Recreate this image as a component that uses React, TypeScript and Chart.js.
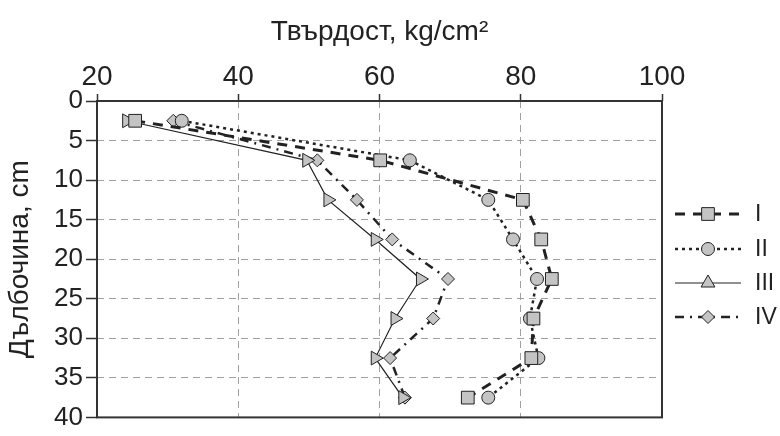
import React, { useEffect, useRef } from "react";
import { Chart, registerables } from "chart.js";

Chart.register(...registerables);

const depths = [2.5, 7.5, 12.5, 17.5, 22.5, 27.5, 32.5, 37.5];
const seriesI = [25.4, 60.1, 80.3, 82.9, 84.4, 81.8, 81.5, 72.5];
const seriesII = [32.0, 64.3, 75.4, 78.9, 82.3, 81.3, 82.5, 75.4];
const seriesIII = [24.2, 49.7, 52.7, 59.4, 65.8, 62.2, 59.4, 63.3];
const seriesIV = [30.8, 51.2, 56.8, 61.8, 69.7, 67.6, 61.5, 63.6];
const seriesNames = ["I", "II", "III", "IV"];
const xTitle = "Твърдост, kg/cm²";
const yTitle = "Дълбочина, cm";

const FONT = "'Liberation Sans Narrow', 'Liberation Sans', Arial, sans-serif";
const INK = "#222";
const FILL = "#c4c4c4";

const toPoints = (vals: number[]) => vals.map((v, i) => ({ x: v, y: depths[i] }));

const boxAndLegend = {
  id: "boxAndLegend",
  beforeDatasetsDraw(chart: any) {
    const { ctx, chartArea: a } = chart;
    ctx.save();
    ctx.strokeStyle = "#333";
    ctx.lineWidth = 2;
    ctx.setLineDash([]);
    ctx.strokeRect(a.left, a.top, a.right - a.left, a.bottom - a.top);
    ctx.restore();
  },
  afterDraw(chart: any) {
    const { ctx } = chart;
    const ys = [214, 249, 283, 317];
    chart.data.datasets.forEach((ds: any, i: number) => {
      const y = ys[i];
      const x0 = 675;
      const x1 = 741;
      const xm = 708;
      ctx.save();
      ctx.strokeStyle = ds.borderColor;
      ctx.lineWidth = ds.borderWidth;
      ctx.setLineDash(ds.borderDash || []);
      ctx.beginPath();
      ctx.moveTo(x0, y);
      ctx.lineTo(x1, y);
      ctx.stroke();
      ctx.setLineDash([]);
      ctx.fillStyle = FILL;
      ctx.strokeStyle = INK;
      ctx.lineWidth = 1;
      ctx.beginPath();
      const r = ds.pointRadius;
      if (ds.pointStyle === "rect") {
        const s = r * Math.SQRT1_2;
        ctx.rect(xm - s, y - s, 2 * s, 2 * s);
      } else if (ds.pointStyle === "circle") {
        ctx.arc(xm, y, r, 0, Math.PI * 2);
      } else if (ds.pointStyle === "triangle") {
        ctx.moveTo(xm, y - r);
        ctx.lineTo(xm + r * Math.cos(Math.PI / 6), y + r * 0.5);
        ctx.lineTo(xm - r * Math.cos(Math.PI / 6), y + r * 0.5);
        ctx.closePath();
      } else {
        ctx.moveTo(xm, y - r);
        ctx.lineTo(xm + r, y);
        ctx.lineTo(xm, y + r);
        ctx.lineTo(xm - r, y);
        ctx.closePath();
      }
      ctx.fill();
      ctx.stroke();
      ctx.fillStyle = INK;
      ctx.font = `23px ${FONT}`;
      ctx.textAlign = "left";
      ctx.textBaseline = "middle";
      ctx.fillText(ds.label, 755, y + 1);
      ctx.restore();
    });
  },
};

export default function App() {
  const ref = useRef<HTMLCanvasElement | null>(null);
  useEffect(() => {
    document.body.style.margin = "0";
    if (!ref.current) return;
    Chart.defaults.font.family = FONT;
    Chart.defaults.color = INK;
    const common = {
      borderColor: INK,
      pointBackgroundColor: FILL,
      pointBorderColor: INK,
      pointBorderWidth: 1,
      fill: false,
      tension: 0,
    };
    const chart = new Chart(ref.current, {
      type: "line",
      data: {
        datasets: [
          { ...common, label: seriesNames[0], data: toPoints(seriesI), borderWidth: 3, borderDash: [10, 8], pointStyle: "rect", pointRadius: 9, pointRotation: 0 },
          { ...common, label: seriesNames[1], data: toPoints(seriesII), borderWidth: 2.5, borderDash: [3, 4], pointStyle: "circle", pointRadius: 6.5 },
          { ...common, label: seriesNames[2], data: toPoints(seriesIII), borderWidth: 1.2, borderDash: [], pointStyle: "triangle", pointRadius: 8, pointRotation: 90 },
          { ...common, label: seriesNames[3], data: toPoints(seriesIV), borderWidth: 2.5, borderDash: [9, 6, 2, 6], pointStyle: "rectRot", pointRadius: 6.5 },
        ] as any,
      },
      options: {
        animation: false,
        responsive: false,
        layout: { padding: { left: 0, top: 0, right: 118, bottom: 9 } },
        plugins: { legend: { display: false }, tooltip: { enabled: false } },
        scales: {
          x: {
            type: "linear",
            position: "top",
            min: 20,
            max: 100,
            ticks: { stepSize: 20, font: { size: 28 }, color: INK, padding: 0 },
            grid: { color: "#a0a0a0", lineWidth: 1, tickLength: 7, tickColor: "#333", tickWidth: 1.5 },
            border: { display: false, dash: [7, 5] },
            title: { display: true, text: xTitle, font: { size: 28 }, color: INK, padding: { top: 15, bottom: 0 } },
            afterFit: (s: any) => { s.height = 101; },
          },
          y: {
            type: "linear",
            reverse: true,
            min: 0,
            max: 40,
            ticks: { stepSize: 5, font: { size: 26 }, color: INK, padding: 3 },
            grid: { color: "#a0a0a0", lineWidth: 1, tickLength: 11, tickColor: "#333", tickWidth: 1.5 },
            border: { display: false, dash: [7, 5] },
            title: { display: true, text: yTitle, font: { size: 28 }, color: INK, padding: { top: 3, bottom: 0 } },
            afterFit: (s: any) => { s.width = 97; },
          },
        },
      } as any,
      plugins: [boxAndLegend],
    });
    return () => chart.destroy();
  }, []);
  return <canvas ref={ref} width={780} height={436} style={{ display: "block" }} />;
}
